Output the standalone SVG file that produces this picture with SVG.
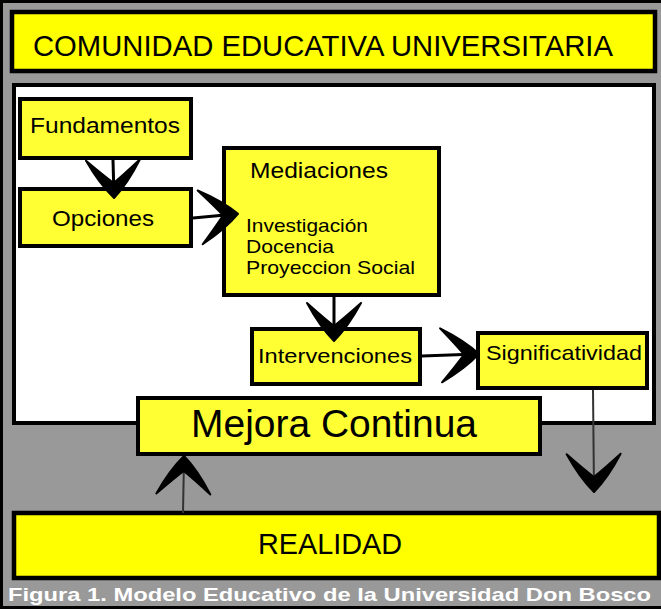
<svg xmlns="http://www.w3.org/2000/svg" width="661" height="610" viewBox="0 0 661 610">
<style>
.big{fill:#FFFF00;stroke:#000;stroke-width:4.5}
.box{fill:#FFFF33;stroke:#000;stroke-width:4}
.t{font-family:"Liberation Sans",Arial,sans-serif;fill:#000}
.cap{font-family:"Liberation Sans",Arial,sans-serif;font-weight:bold;fill:#fff;font-size:19px}
.ln{stroke:#000;stroke-width:3;fill:none}
.thin{stroke:#333;stroke-width:2;fill:none}
</style>
<defs>
<marker id="ah" viewBox="-40 -30 44 60" refX="0" refY="0" markerWidth="44" markerHeight="60" markerUnits="userSpaceOnUse" orient="auto">
<path d="M2,0 Q-12,-14 -36,-27 Q-20,-9 -13,0 Q-20,9 -36,27 Q-12,14 2,0 Z" fill="#000" stroke="#000" stroke-width="2" stroke-linejoin="round"/>
</marker>
</defs>
<rect x="1.5" y="1.5" width="670" height="606" fill="#999999" stroke="#000" stroke-width="3"/>
<g id="comunidad">
<rect class="big" x="12" y="12" width="643" height="59"/>
<text class="t" x="33" y="56" font-size="30" textLength="580" lengthAdjust="spacingAndGlyphs">COMUNIDAD EDUCATIVA UNIVERSITARIA</text>
</g>
<g id="panel">
<rect x="14" y="85" width="640" height="338" fill="#fff" stroke="#000" stroke-width="4"/>
</g>
<g id="fundamentos">
<rect class="box" x="20" y="99" width="171" height="59"/>
<text class="t" x="30" y="133" font-size="22" textLength="150" lengthAdjust="spacingAndGlyphs">Fundamentos</text>
</g>
<g id="opciones">
<rect class="box" x="20" y="189" width="171" height="57"/>
<text class="t" x="52" y="226" font-size="22" textLength="102" lengthAdjust="spacingAndGlyphs">Opciones</text>
</g>
<g id="mediaciones">
<rect class="box" x="224" y="148" width="215" height="147"/>
<text class="t" x="250" y="178" font-size="22" textLength="138" lengthAdjust="spacingAndGlyphs">Mediaciones</text>
<text class="t" x="246" y="232" font-size="19" textLength="122" lengthAdjust="spacingAndGlyphs">Investigación</text>
<text class="t" x="246" y="253" font-size="19" textLength="88" lengthAdjust="spacingAndGlyphs">Docencia</text>
<text class="t" x="246" y="274" font-size="19" textLength="169" lengthAdjust="spacingAndGlyphs">Proyeccion Social</text>
</g>
<g id="intervenciones">
<rect class="box" x="252" y="329" width="168" height="55"/>
<text class="t" x="258" y="363" font-size="21" textLength="154" lengthAdjust="spacingAndGlyphs">Intervenciones</text>
</g>
<g id="significatividad">
<rect class="box" x="478" y="333" width="169" height="55"/>
<text class="t" x="486" y="360" font-size="21" textLength="156" lengthAdjust="spacingAndGlyphs">Significatividad</text>
</g>
<g id="mejora">
<rect class="box" x="138" y="398" width="402" height="56"/>
<text class="t" x="191" y="437" font-size="38" textLength="286" lengthAdjust="spacingAndGlyphs">Mejora Continua</text>
</g>
<g id="realidad">
<rect class="big" x="14" y="513" width="645" height="65"/>
<text class="t" x="258" y="554" font-size="29" textLength="144" lengthAdjust="spacingAndGlyphs">REALIDAD</text>
</g>
<g id="connectors">
<line class="ln" x1="113" y1="160" x2="114" y2="196" marker-end="url(#ah)"/>
<line class="ln" x1="193" y1="218" x2="236" y2="214" marker-end="url(#ah)"/>
<line class="ln" x1="334" y1="297" x2="334" y2="339" marker-end="url(#ah)"/>
<line class="ln" x1="422" y1="356" x2="477" y2="354" marker-end="url(#ah)"/>
<line class="thin" x1="593" y1="390" x2="594" y2="490" marker-end="url(#ah)"/>
<line class="thin" x1="183" y1="513" x2="184" y2="458" marker-end="url(#ah)"/>
</g>
<text class="cap" x="8" y="601" textLength="643" lengthAdjust="spacingAndGlyphs">Figura 1. Modelo Educativo de la Universidad Don Bosco</text>
</svg>
